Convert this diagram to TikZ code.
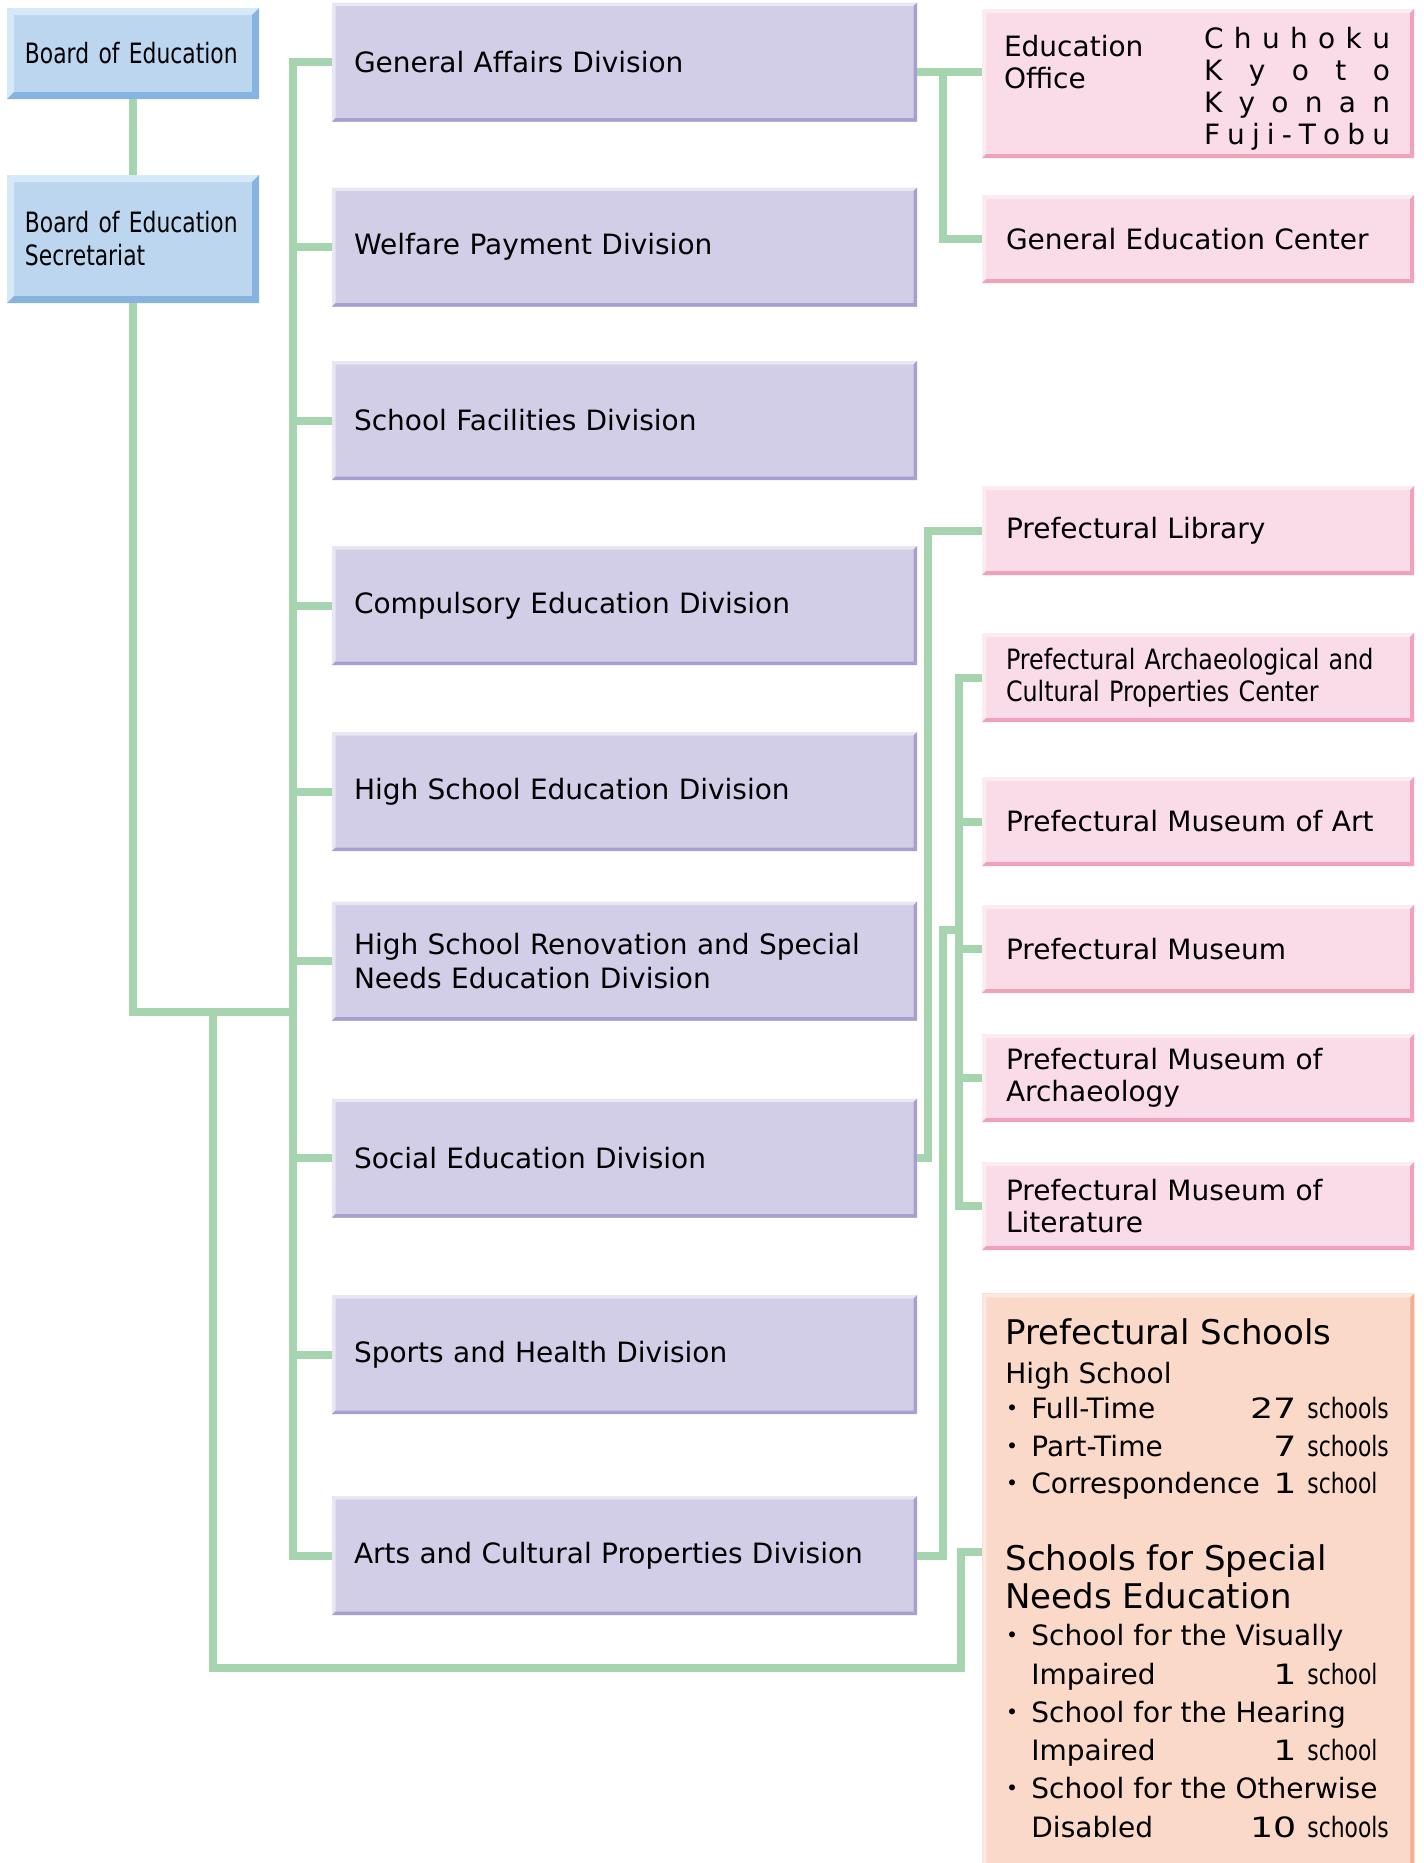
\documentclass[tikz,border=0pt]{standalone}
\usepackage{fontspec}
\setmainfont{DejaVu Sans}
\newfontfamily\condA[FakeStretch=0.78]{DejaVu Sans}
\newfontfamily\condB[FakeStretch=0.85]{DejaVu Sans}
\newfontfamily\wide[FakeStretch=1.3]{DejaVu Sans}
\newfontfamily\cjk{Noto Sans CJK JP}
\usetikzlibrary{calc}
\definecolor{cConn}{HTML}{A6D4AE}
\definecolor{cPurp}{HTML}{D2CEE7}
\definecolor{cPurpL}{HTML}{E9E6F4}
\definecolor{cPurpD}{HTML}{A99ED0}
\definecolor{cPink}{HTML}{FADBE8}
\definecolor{cPinkL}{HTML}{FDEBF2}
\definecolor{cPinkD}{HTML}{F2A2B8}
\definecolor{cBlue}{HTML}{BCD6F0}
\definecolor{cBlueL}{HTML}{D5E9F8}
\definecolor{cBlueD}{HTML}{86B3E0}
\definecolor{cPeach}{HTML}{FAD9C8}
\definecolor{cPeachL}{HTML}{FCE8DE}
\definecolor{cPeachD}{HTML}{F3AE92}
\newcommand\Bul{\leavevmode\hbox to 13pt{\hskip-3.5pt{\cjk ・}\hss}}
\newcommand\Num[1]{{\wide #1}}
\tikzset{
  bevbox/.style n args={4}{fill=#1, draw=none, path picture={
    \coordinate (bvsw) at (path picture bounding box.south west);
    \coordinate (bvne) at (path picture bounding box.north east);
    \coordinate (bvnw) at (path picture bounding box.north west);
    \coordinate (bvse) at (path picture bounding box.south east);
    \fill[#2] (bvnw) -- (bvne) -- ($(bvne)+(-#4,-#4)$) -- ($(bvnw)+(#4,-#4)$) -- cycle;
    \fill[#2] (bvnw) -- ($(bvnw)+(#4,-#4)$) -- ($(bvsw)+(#4,#4)$) -- (bvsw) -- cycle;
    \fill[#3] (bvsw) -- ($(bvsw)+(#4,#4)$) -- ($(bvse)+(-#4,#4)$) -- (bvse) -- cycle;
    \fill[#3] (bvse) -- ($(bvse)+(-#4,#4)$) -- ($(bvne)+(-#4,-#4)$) -- (bvne) -- cycle;
  }},
  conn/.style={draw=cConn, line width=4pt},
  bluebox/.style={bevbox={cBlue}{cBlueL}{cBlueD}{3.5pt}, text width=108pt, inner xsep=9pt, inner ysep=0pt, align=left, font=\fontsize{14}{16.5}\selectfont\condA},
  divbox/.style={bevbox={cPurp}{cPurpL}{cPurpD}{1.75pt}, text width=270.5pt, inner xsep=11pt, inner ysep=0pt, minimum height=59.5pt, align=left, font=\fontsize{14}{17}\selectfont},
  pinkbox/.style={bevbox={cPink}{cPinkL}{cPinkD}{2pt}, text width=192pt, inner xsep=12pt, inner ysep=0pt, minimum height=44.5pt, align=left, font=\fontsize{14}{16}\selectfont},
  schoolbox/.style={bevbox={cPeach}{cPeachL}{cPeachD}{2pt}, inner xsep=11.5pt, inner ysep=0pt, anchor=north west, font=\fontsize{14}{16}\selectfont},
}
\begin{document}
\begin{tikzpicture}[x=0.5pt,y=-0.5pt]
\useasboundingbox (0,0) rectangle (1424,1863);
\clip (0,0) rectangle (1424,1863);
\fill[white] (0,0) rectangle (1424,1863);

% left column
\node[bluebox, minimum height=45.5pt] (boe) at (133,53.5) {\mbox{Board of Education}};
\node[bluebox, minimum height=64pt] (sec) at (133,239) {\mbox{Board of Education}\\\mbox{Secretariat}};

% divisions
\node[divbox] (ga)   at (624.5,62)   {General Affairs Division};
\node[divbox] (wel)  at (624.5,247)  {Welfare Payment Division};
\node[divbox] (fac)  at (624.5,420.5){School Facilities Division};
\node[divbox] (comp) at (624.5,605.5){Compulsory Education Division};
\node[divbox] (hse)  at (624.5,791.5){High School Education Division};
\node[divbox] (hsr)  at (624.5,961)  {High School Renovation and Special\\Needs Education Division};
\node[divbox] (soc)  at (624.5,1158) {Social Education Division};
\node[divbox] (spo)  at (624.5,1354.5){Sports and Health Division};
\node[divbox] (arts) at (624.5,1555.5){Arts and Cultural Properties Division};

% right column
\node[pinkbox, text width=194pt, inner xsep=11pt, minimum height=74.5pt] (eo) at (1198,83.5)
  {\raisebox{0pt}[\dimexpr\height+5pt\relax][\depth]{\raisebox{-4pt}{\parbox[t]{100pt}{Education\\Office}}\parbox[t]{93pt}{%
   \makebox[93pt][s]{C\hfill h\hfill u\hfill h\hfill o\hfill k\hfill u}\\
   \makebox[93pt][s]{K\hfill y\hfill o\hfill t\hfill o}\\
   \makebox[93pt][s]{K\hfill y\hfill o\hfill n\hfill a\hfill n}\\
   \makebox[93pt][s]{F\hfill u\hfill j\hfill i\hfill -\hfill T\hfill o\hfill b\hfill u}}}};
\node[pinkbox, minimum height=44pt] (gec) at (1198,239) {General Education Center};
\node[pinkbox] (lib)   at (1198,530.5) {Prefectural Library};
\node[pinkbox] (archc) at (1198,677.5) {\condB Prefectural Archaeological and\\Cultural Properties Center};
\node[pinkbox] (art)   at (1198,821.5) {Prefectural Museum of Art};
\node[pinkbox, minimum height=44pt] (mus)   at (1198,949)  {Prefectural Museum};
\node[pinkbox, minimum height=44pt] (archm) at (1198,1078) {Prefectural Museum of\\Archaeology};
\node[pinkbox, minimum height=44pt] (lit)   at (1198,1206) {Prefectural Museum of\\Literature};

\node[schoolbox] (schools) at (982,1293) {\parbox[c][290pt][t]{193pt}{%
  \setlength{\parindent}{0pt}\setlength{\parskip}{0pt}%
  {\fontsize{17}{20}\selectfont\noindent\rule{0pt}{25.5pt}Prefectural Schools\par}
  {\fontsize{14}{19.5}\selectfont\noindent High School\par}
  {\fontsize{14}{17.5}\selectfont\noindent\Bul\makebox[132.5pt][l]{Full-Time\hfill\Num{27}}\hspace{5.5pt}{\condA schools}\par}
  {\fontsize{14}{19}\selectfont\noindent\Bul\makebox[132.5pt][l]{Part-Time\hfill\Num{7}}\hspace{5.5pt}{\condA schools}\par}
  {\fontsize{14}{18.5}\selectfont\noindent\Bul\makebox[132.5pt][l]{Correspondence\hfill\Num{1}}\hspace{5.5pt}{\condA school}\par}
  {\fontsize{17}{38.5}\selectfont\noindent Schools for Special\par}
  {\fontsize{17}{19}\selectfont\noindent Needs Education\par}
  {\fontsize{14}{18.5}\selectfont\noindent\Bul School for the Visually\par}
  {\fontsize{14}{19.5}\selectfont\noindent\hspace*{13pt}\makebox[132.5pt][l]{Impaired\hfill\Num{1}}\hspace{5.5pt}{\condA school}\par}
  {\fontsize{14}{19}\selectfont\noindent\Bul School for the Hearing\par}
  {\fontsize{14}{19}\selectfont\noindent\hspace*{13pt}\makebox[132.5pt][l]{Impaired\hfill\Num{1}}\hspace{5.5pt}{\condA school}\par}
  {\fontsize{14}{19}\selectfont\noindent\Bul School for the Otherwise\par}
  {\fontsize{14}{19.5}\selectfont\noindent\hspace*{13pt}\makebox[132.5pt][l]{Disabled\hfill\Num{10}}\hspace{5.5pt}{\condA schools}\par}
}};

% coordinates for connector bends
\coordinate (xT) at (293,0);
\coordinate (xE) at (943,0);
\coordinate (xA) at (928,0);
\coordinate (xR) at (943,0);
\coordinate (xB) at (959,0);
\coordinate (jT) at (293,1012);
\coordinate (jS) at (213,1012);
\coordinate (bS) at (961,1668);
\coordinate (tS) at (961,1552);
\coordinate (jB) at (959,930);
\coordinate (gaR) at ([yshift=-5pt]ga.east);

% connectors
\draw[conn] (boe.south) -- (sec.north);
\draw[conn] (sec.south) |- (jT);
\draw[conn] (ga.west) -- (ga.west -| xT) -- (arts.west -| xT) -- (arts.west);
\foreach \n in {wel,fac,comp,hse,hsr,soc,spo} \draw[conn] (\n.west) -- (\n.west -| xT);
\draw[conn] (jS) |- (bS) -- (tS) -- (schools.west |- tS);
\draw[conn] (gaR) -- (gaR -| eo.west);
\draw[conn] (gaR -| xE) |- (gec.west);
\draw[conn] (soc.east) -| (xA |- lib.west) -- (lib.west);
\draw[conn] (archc.west) -- (archc.west -| xB) |- (lit.west);
\foreach \n in {art,mus,archm} \draw[conn] (\n.west) -- (\n.west -| xB);
\draw[conn] (arts.east) -| (xR |- jB) -- (jB);
\end{tikzpicture}
\end{document}
